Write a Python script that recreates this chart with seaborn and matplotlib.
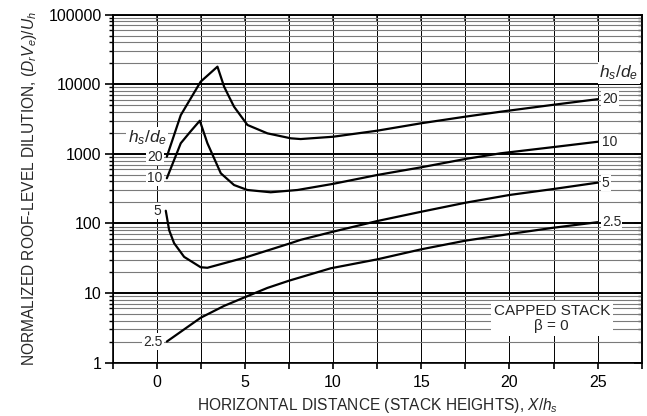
import matplotlib
matplotlib.use("Agg")
import matplotlib.pyplot as plt
import matplotlib.ticker as mticker
import seaborn as sns
import pandas as pd

# curves: x = X/h_s, y = normalized dilution
x_20 = [0.57, 1.36, 1.93, 2.49, 3.44, 3.82, 4.1, 4.38, 5.14, 6.27, 7.6, 8.16, 10.0, 12.5, 15.0, 17.5, 19.5, 22.5, 25.0]
y_20 = [910, 3600, 6300, 10900, 17900, 9200, 6600, 4760, 2600, 1970, 1670, 1630, 1760, 2150, 2750, 3420, 4030, 5070, 6100]

x_10 = [0.57, 1.36, 1.93, 2.44, 2.87, 3.63, 4.38, 5.14, 6.46, 7.98, 10.0, 12.5, 15.0, 17.5, 19.5, 22.5, 25.0]
y_10 = [445, 1420, 2120, 2990, 1420, 525, 356, 302, 280, 302, 370, 496, 640, 843, 1017, 1250, 1490]

x_5 = [0.51, 0.7, 0.98, 1.55, 2.49, 2.87, 3.81, 5.05, 7.6, 8.16, 10.0, 12.5, 15.0, 17.5, 20.0, 22.5, 25.0]
y_5 = [152, 80, 52, 33, 23.4, 23, 26.7, 32.5, 52, 58, 76, 108, 147, 198, 256, 312, 385]

x_25 = [0.57, 2.49, 3.81, 5.05, 6.27, 7.5, 9.86, 12.5, 15.0, 17.5, 20.0, 22.5, 25.0]
y_25 = [2.0, 4.4, 6.5, 8.8, 11.8, 15.0, 22.6, 30.4, 42.4, 56.4, 70.3, 86.6, 104]

ratios = ["20", "10", "5", "2.5"]
xs = [x_20, x_10, x_5, x_25]
ys = [y_20, y_10, y_5, y_25]

frames = []
for r, xv, yv in zip(ratios, xs, ys):
    frames.append(pd.DataFrame({"x": xv, "y": yv, "ratio": r}))
df = pd.concat(frames, ignore_index=True)

sns.set_theme(style="ticks")
plt.rcParams["font.family"] = ["Liberation Sans", "DejaVu Sans"]
plt.rcParams["mathtext.fontset"] = "custom"
plt.rcParams["mathtext.rm"] = "Liberation Sans"
plt.rcParams["mathtext.it"] = "Liberation Sans:italic"

fig = plt.figure(figsize=(6.47, 4.16), dpi=100)
ax = fig.add_axes([0.1742, 0.1286, 0.8176, 0.8361])

sns.lineplot(data=df, x="x", y="y", hue="ratio", units="ratio", estimator=None,
             sort=False, palette={r: "black" for r in ratios}, lw=1.6,
             legend=False, ax=ax, zorder=3)

ax.set_yscale("log")
ax.set_xlim(-2.5, 27.5)
ax.set_ylim(1, 100000)

ax.xaxis.set_major_locator(mticker.MultipleLocator(5))
ax.xaxis.set_minor_locator(mticker.MultipleLocator(2.5))
ax.yaxis.set_major_locator(mticker.LogLocator(base=10, numticks=10))
ax.yaxis.set_minor_locator(mticker.LogLocator(base=10, subs=range(2, 10), numticks=20))
ax.yaxis.set_major_formatter(mticker.FuncFormatter(lambda v, p: "%d" % v))
ax.yaxis.set_minor_formatter(mticker.NullFormatter())

ax.set_axisbelow(True)
ax.grid(which="major", axis="y", color="black", lw=1.4)
ax.grid(which="minor", axis="y", color="#7a7a7a", lw=0.8)
ax.grid(which="both", axis="x", color="black", lw=0.7)

for s in ax.spines.values():
    s.set_linewidth(1.2)
    s.set_color("black")

ax.tick_params(axis="y", which="major", direction="out", length=6, width=1.2,
               labelsize=11.5, pad=2, colors="black")
ax.tick_params(axis="y", which="minor", direction="out", length=3, width=1, colors="black")
ax.tick_params(axis="x", which="both", direction="out", length=4, width=1.2,
               labelsize=11.5, pad=5, colors="black")

top = ax.secondary_xaxis("top")
top.xaxis.set_major_locator(mticker.MultipleLocator(2.5))
top.tick_params(direction="in", length=5, width=1.2, labeltop=False)
right = ax.secondary_yaxis("right")
right.tick_params(which="major", direction="in", length=6, width=1.2, labelright=False)
right.tick_params(which="minor", direction="in", length=3, width=1)
right.yaxis.set_major_formatter(mticker.NullFormatter())
right.yaxis.set_minor_formatter(mticker.NullFormatter())

ax.set_xlabel("HORIZONTAL DISTANCE (STACK HEIGHTS), $X/h_s$", fontsize=11.2, labelpad=4)
ax.set_ylabel("NORMALIZED ROOF-LEVEL DILUTION, $(D_rV_e)/U_h$", fontsize=11.2, labelpad=7)

box = dict(boxstyle="square,pad=0.08", fc="white", ec="none")
for r, xv, yv in zip(ratios, xs, ys):
    ax.annotate(r, (xv[0], yv[0]), xytext=(-3, 0), textcoords="offset points",
                ha="right", va="center", fontsize=10, bbox=box, zorder=4)
    ax.annotate(r, (xv[-1], yv[-1]), xytext=(3, 0), textcoords="offset points",
                ha="left", va="center", fontsize=10, bbox=box, zorder=4)

ax.text(-0.55, 1700, "$h_s/d_e$", ha="center", va="center", fontsize=12.5, bbox=box, zorder=4)
ax.text(26.2, 14500, "$h_s/d_e$", ha="center", va="center", fontsize=12.5, bbox=box, zorder=4)

ax.text(22.4, 4.3, "CAPPED STACK\n\u03b2 = 0", ha="center", va="center", fontsize=11,
        multialignment="center", linespacing=1.1,
        bbox=dict(boxstyle="square,pad=0.2", fc="white", ec="none"), zorder=4)

fig.savefig("out.png", dpi=100)
